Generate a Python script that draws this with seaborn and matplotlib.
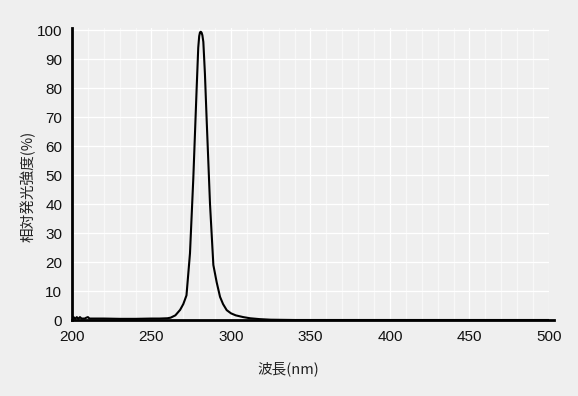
import matplotlib
matplotlib.use("Agg")
import matplotlib.pyplot as plt
import seaborn as sns
import pandas as pd
from matplotlib.ticker import MultipleLocator

wavelength = [200, 201, 202, 203, 204, 205, 206, 207, 208, 209, 210, 211, 212, 215, 220, 230, 240, 250, 255, 260,
              262, 265, 268, 270, 272, 274.2, 276.3, 278.4, 279.4, 280.0, 280.5, 281, 281.5, 282, 282.6, 283.6,
              284.7, 286.8, 288.9, 291, 293.1, 295, 297.3, 300, 303, 307.7, 312, 318, 325, 340, 400, 500]
intensity = [0.5, 1.0, 0.4, 1.0, 0.4, 1.0, 0.5, 0.5, 0.5, 0.8, 1.0, 0.5, 0.5, 0.5, 0.5, 0.4, 0.4, 0.5, 0.5, 0.6,
             0.8, 1.6, 3.5, 5.5, 8.5, 23, 49, 80, 94, 98, 99.3, 99.5, 99.2, 98.3, 96, 85,
             69, 40, 19, 13, 8, 5.5, 3.4, 2.3, 1.6, 1.0, 0.6, 0.3, 0.1, 0.0, 0.0, 0.0]

x_ticks = [200, 250, 300, 350, 400, 450, 500]
y_ticks = [0, 10, 20, 30, 40, 50, 60, 70, 80, 90, 100]
x_label = "波長(nm)"
y_label = "相対発光強度(%)"

df = pd.DataFrame({"wavelength": wavelength, "intensity": intensity})

sns.set_theme(style="white")
plt.rcParams['font.family'] = ['Liberation Sans', 'Noto Sans CJK JP', 'DejaVu Sans']

bg = "#efefef"
L, R, B, T = 72, 549, 320, 28
fig = plt.figure(figsize=(5.78, 3.96), dpi=100, facecolor=bg)
ax = fig.add_axes([L/578, 1-B/396, (R-L)/578, (B-T)/396])
ax.set_facecolor(bg)

sns.lineplot(data=df, x="wavelength", y="intensity", ax=ax, color="black", linewidth=1.5)

ax.set_xlim(200, 500)
ax.set_ylim(0, 100.8)
ax.set_xticks(x_ticks)
ax.set_yticks(y_ticks)
ax.xaxis.set_minor_locator(MultipleLocator(10))
ax.grid(which="major", color="white", linewidth=0.9)
ax.grid(which="minor", axis="x", color="#f8f8f8", linewidth=0.9)
ax.set_axisbelow(True)

for s in ["top", "right"]:
    ax.spines[s].set_visible(False)
for s in ["left", "bottom"]:
    ax.spines[s].set_color("black")
    ax.spines[s].set_linewidth(2)
ax.spines["bottom"].set_bounds(200, 503)

ax.tick_params(axis="both", which="major", direction="out", length=4, width=1, color="#555555",
               labelsize=11, labelcolor="#111111", pad=3)
ax.tick_params(axis="both", which="minor", length=0)

ax.set_xlabel(x_label, fontsize=10.5, family=['Noto Sans CJK JP', 'DejaVu Sans'], color="#222222")
ax.set_ylabel(y_label, fontsize=10.5, family=['Noto Sans CJK JP', 'DejaVu Sans'], color="#222222")
ax.xaxis.set_label_coords((288-L)/(R-L), -(361-B)/(B-T))
ax.yaxis.set_label_coords(-(L-36)/(R-L), (B-186)/(B-T))

fig.savefig("out.png", dpi=100, facecolor=bg)
